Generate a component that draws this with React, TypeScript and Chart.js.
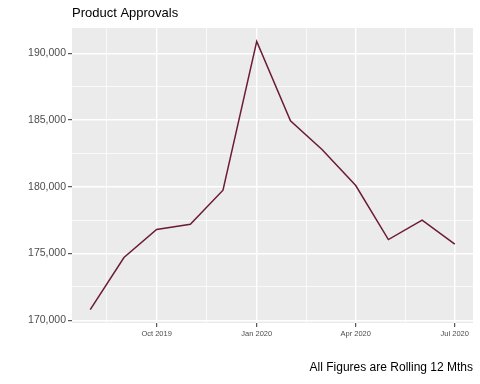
import React, { useEffect, useRef } from "react";
import { Chart, registerables } from "chart.js";

Chart.register(...registerables);

const months = [
  "2019-08-01", "2019-09-01", "2019-10-01", "2019-11-01", "2019-12-01", "2020-01-01",
  "2020-02-01", "2020-03-01", "2020-04-01", "2020-05-01", "2020-06-01", "2020-07-01",
];
const approvals = [
  170800, 174700, 176800, 177200, 179750, 190900,
  184950, 182800, 180100, 176050, 177500, 175700,
];
const xTickDates = ["2019-10-01", "2020-01-01", "2020-04-01", "2020-07-01"];
const xTickLabels = ["Oct 2019", "Jan 2020", "Apr 2020", "Jul 2020"];
const yMajorTicks = [170000, 175000, 180000, 185000, 190000];

const titleText = "Product Approvals";
const captionText = "All Figures are Rolling 12 Mths";

const DAY = 86400000;
const toDay = (s: string) => Date.parse(s + "T00:00:00Z") / DAY;

const FONT = "'Liberation Sans', Arial, Helvetica, sans-serif";

export default function App() {
  const ref = useRef<HTMLCanvasElement | null>(null);

  useEffect(() => {
    if (!ref.current) return;
    const xs = months.map(toDay);
    const points = xs.map((x, i) => ({ x, y: approvals[i] }));
    const xMin = Math.min(...xs);
    const xMax = Math.max(...xs);
    const xExp = (xMax - xMin) * 0.05;
    const yMin = Math.min(...approvals);
    const yMax = Math.max(...approvals);
    const yExp = (yMax - yMin) * 0.05;

    const xMajor = xTickDates.map(toDay);
    const xMinor: number[] = [];
    const allMajor = [toDay("2019-07-01"), ...xMajor, toDay("2020-10-01")];
    for (let i = 0; i < allMajor.length - 1; i++) {
      const m = (allMajor[i] + allMajor[i + 1]) / 2;
      if (m >= xMin - xExp && m <= xMax + xExp) xMinor.push(m);
    }
    const yMinor: number[] = [];
    for (let i = 0; i < yMajorTicks.length - 1; i++) {
      yMinor.push((yMajorTicks[i] + yMajorTicks[i + 1]) / 2);
    }

    const isXMajor = (v: number) => xMajor.some((m) => Math.abs(m - v) < 0.01);
    const isYMajor = (v: number) => yMajorTicks.includes(v);

    const bgPlugin = {
      id: "panelBg",
      beforeDraw(chart: any) {
        const { ctx, chartArea } = chart;
        ctx.save();
        ctx.fillStyle = "#EBEBEB";
        ctx.fillRect(chartArea.left, chartArea.top, chartArea.width, chartArea.height);
        ctx.restore();
      },
      afterDraw(chart: any) {
        const { ctx, chartArea } = chart;
        ctx.save();
        ctx.fillStyle = "#000000";
        ctx.textBaseline = "middle";
        ctx.font = `13px ${FONT}`;
        ctx.textAlign = "left";
        ctx.fillText(titleText, chartArea.left, 13);
        ctx.font = `12px ${FONT}`;
        ctx.textAlign = "right";
        ctx.fillText(captionText, chartArea.right, 368);
        ctx.restore();
      },
    };

    const chart = new Chart(ref.current, {
      type: "line",
      data: {
        datasets: [
          {
            data: points,
            borderColor: "#6B1B35",
            borderWidth: 1.5,
            pointRadius: 0,
            tension: 0,
            fill: false,
          },
        ],
      },
      options: {
        animation: false,
        responsive: false,
        layout: { padding: { top: 28, right: 7, bottom: 41, left: 0 } },
        plugins: {
          legend: { display: false },
          tooltip: { enabled: false },
          title: { display: false },
        },
        scales: {
          x: {
            type: "linear",
            min: xMin - xExp,
            max: xMax + xExp,
            afterBuildTicks: (scale: any) => {
              scale.ticks = [...xMinor, ...xMajor].sort((a, b) => a - b).map((v) => ({ value: v }));
            },
            afterFit: (scale: any) => {
              scale.height = 20;
            },
            border: { display: false },
            grid: {
              color: "#FFFFFF",
              lineWidth: (ctx: any) => (ctx.tick && isXMajor(ctx.tick.value) ? 1.4 : 0.7),
              drawTicks: true,
              tickLength: 4,
              tickWidth: 1,
              tickColor: (ctx: any) => (ctx.tick && isXMajor(ctx.tick.value) ? "#333333" : "rgba(0,0,0,0)"),
            },
            ticks: {
              autoSkip: false,
              maxRotation: 0,
              padding: 2,
              color: "#4D4D4D",
              font: { family: FONT, size: 7.5 },
              callback: (v: any) => {
                const i = xMajor.findIndex((m) => Math.abs(m - Number(v)) < 0.01);
                return i >= 0 ? xTickLabels[i] : "";
              },
            },
          },
          y: {
            type: "linear",
            min: yMin - yExp,
            max: yMax + yExp,
            afterBuildTicks: (scale: any) => {
              scale.ticks = [...yMinor, ...yMajorTicks].sort((a, b) => a - b).map((v) => ({ value: v }));
            },
            afterFit: (scale: any) => {
              scale.width = 72;
            },
            border: { display: false },
            grid: {
              color: "#FFFFFF",
              lineWidth: (ctx: any) => (ctx.tick && isYMajor(ctx.tick.value) ? 1.4 : 0.7),
              drawTicks: true,
              tickLength: 4,
              tickWidth: 1,
              tickColor: (ctx: any) => (ctx.tick && isYMajor(ctx.tick.value) ? "#333333" : "rgba(0,0,0,0)"),
            },
            ticks: {
              autoSkip: false,
              padding: 2,
              color: "#4D4D4D",
              font: { family: FONT, size: 10.5 },
              callback: (v: any) => (isYMajor(Number(v)) ? Number(v).toLocaleString("en-US") : ""),
            },
          },
        },
      },
      plugins: [bgPlugin],
    });
    return () => chart.destroy();
  }, []);

  return (
    <div style={{ position: "fixed", left: 0, top: 0, width: 480, height: 384, background: "#FFFFFF" }}>
      <canvas ref={ref} width={480} height={384} style={{ display: "block", width: 480, height: 384 }} />
    </div>
  );
}
